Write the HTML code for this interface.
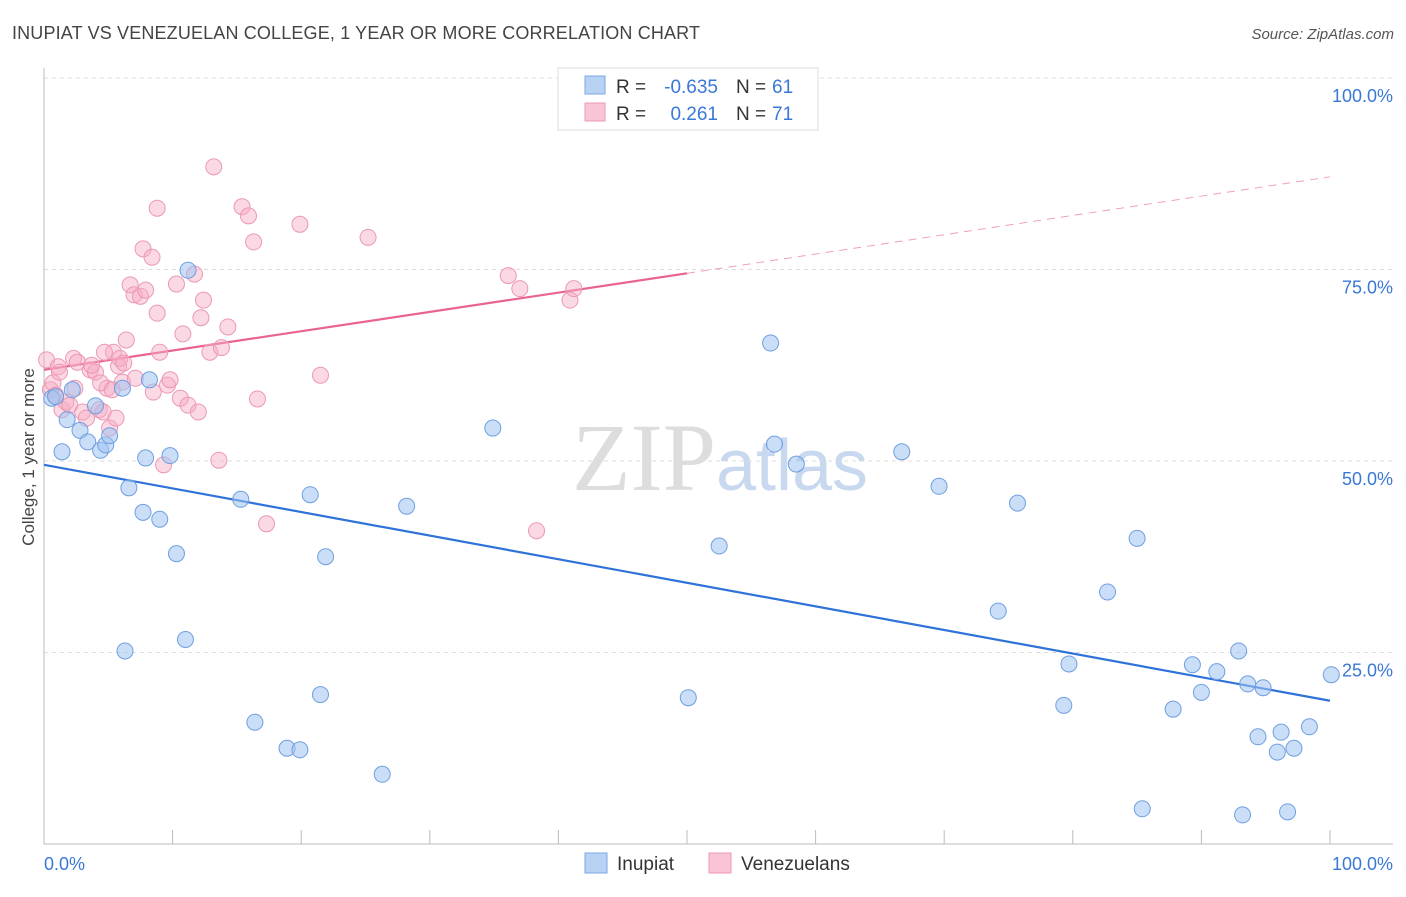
<!DOCTYPE html>
<html><head><meta charset="utf-8"><style>
body{margin:0;background:#fff;font-family:"Liberation Sans",sans-serif}
</style></head><body>
<svg id="chart" width="1406" height="892" xmlns="http://www.w3.org/2000/svg" font-family="Liberation Sans, sans-serif">
<text x="12" y="39" font-size="18" fill="#444" textLength="688">INUPIAT VS VENEZUELAN COLLEGE, 1 YEAR OR MORE CORRELATION CHART</text>
<text x="1394" y="39" font-size="15" fill="#555" text-anchor="end" font-style="italic">Source: ZipAtlas.com</text>
<text transform="translate(34,457) rotate(-90)" font-size="17" fill="#444" text-anchor="middle">College, 1 year or more</text>
<text x="720" y="490" font-size="96" fill="#ddd" text-anchor="middle" font-family="Liberation Serif, serif">ZIP<tspan fill="#c8d8ee" font-family="Liberation Sans, sans-serif" font-size="72">atlas</tspan></text>
<g id="grid"></g><g id="axes"></g><g id="lines"></g><g id="pts"></g>
<g>
<rect x="558" y="68" width="260" height="62" fill="#fff" stroke="#ddd"/>
<rect x="585" y="76" width="20" height="18" fill="#b8d2f4" stroke="#7aa8e4"/>
<rect x="585" y="103" width="20" height="18" fill="#f9c4d5" stroke="#ec98b3"/>
<text x="616" y="93" font-size="19" fill="#333">R =</text>
<text x="718" y="93" font-size="19" fill="#3a78d6" text-anchor="end">-0.635</text>
<text x="736" y="93" font-size="19" fill="#333">N =</text>
<text x="772" y="93" font-size="19" fill="#3a78d6">61</text>
<text x="616" y="120" font-size="19" fill="#333">R =</text>
<text x="718" y="120" font-size="19" fill="#3a78d6" text-anchor="end">0.261</text>
<text x="736" y="120" font-size="19" fill="#333">N =</text>
<text x="772" y="120" font-size="19" fill="#3a78d6">71</text>
</g>
<g>
<rect x="585" y="853" width="22" height="20" fill="#b8d2f4" stroke="#7aa8e4"/>
<text x="617" y="870" font-size="19" fill="#333">Inupiat</text>
<rect x="709" y="853" width="22" height="20" fill="#f9c4d5" stroke="#ec98b3"/>
<text x="741" y="870" font-size="19" fill="#333">Venezuelans</text>
</g>
</svg>
<script>
const blueX=[0.6,0.9,1.4,1.8,2.2,2.8,3.4,4.0,4.4,4.8,5.1,6.1,6.3,6.6,7.7,7.9,8.2,9.0,9.8,10.3,11.0,11.2,15.3,16.4,18.9,19.9,20.7,21.5,21.9,26.3,28.2,34.9,50.1,52.5,56.5,56.8,58.5,66.7,69.6,74.2,75.7,79.3,79.7,82.7,85.0,85.4,87.8,89.3,90.0,91.2,92.9,93.2,93.6,94.4,94.8,95.9,96.2,96.7,97.2,98.4,100.1];
const blueY=[58.2,58.4,51.2,55.4,59.3,54.0,52.5,57.2,51.4,52.1,53.3,59.5,25.2,46.5,43.3,50.4,60.6,42.4,50.7,37.9,26.7,74.9,45.0,15.9,12.5,12.3,45.6,19.5,37.5,9.1,44.1,54.3,19.1,38.9,65.4,52.2,49.6,51.2,46.7,30.4,44.5,18.1,23.5,32.9,39.9,4.6,17.6,23.4,19.8,22.5,25.2,3.8,20.9,14.0,20.4,12.0,14.6,4.2,12.5,15.3,22.1];
const pinkX=[0.2,0.5,0.7,1.1,1.4,1.7,2.0,2.3,2.4,3.0,3.3,3.6,4.0,4.3,4.6,4.9,5.1,5.4,5.6,5.8,5.9,6.1,6.4,6.7,7.0,7.5,7.7,7.9,8.4,8.5,8.8,8.8,9.0,9.3,9.6,10.3,10.6,10.8,11.2,11.7,12.0,12.2,12.4,12.9,13.2,13.6,13.8,14.3,15.4,15.9,16.3,16.6,17.3,19.9,21.5,25.2,36.1,37.0,38.3,40.9,41.2,0.9,1.2,2.6,3.7,4.4,4.7,5.3,6.2,7.1,9.8];
const pinkY=[63.2,59.3,60.2,62.3,56.7,57.7,57.3,63.4,59.5,56.4,55.6,61.9,61.6,56.7,56.4,59.5,54.3,64.2,55.6,62.4,63.4,60.3,65.8,73.0,71.7,71.5,77.7,72.3,76.6,59.0,69.3,83.0,64.2,49.5,59.9,73.1,58.2,66.6,57.3,74.4,56.4,68.7,71.0,64.2,88.4,50.1,64.8,67.5,83.2,82.0,78.6,58.1,41.8,80.9,61.2,79.2,74.2,72.5,40.9,71.0,72.5,58.6,61.6,62.9,62.5,60.2,64.2,59.3,62.8,60.8,60.6];
const blueLine=[49.5,18.7];
const pinkLine=[61.9,87.1];
const yTicks=[25,50,75,100];
const yTickLabels=["25.0%","50.0%","75.0%","100.0%"];
const xTickLabels=["0.0%","100.0%"];

const X=v=>44+v*12.86, Y=v=>844-v*7.66;
const NS="http://www.w3.org/2000/svg";
function mk(p,t,a){const e=document.createElementNS(NS,t);for(const k in a)e.setAttribute(k,a[k]);p.appendChild(e);return e;}
const grid=document.getElementById('grid'),axes=document.getElementById('axes'),lines=document.getElementById('lines'),pts=document.getElementById('pts');
yTicks.forEach((t,i)=>{
 const l=mk(grid,'line',{x1:44,x2:1393,y1:Y(t),y2:Y(t),stroke:'#ddd','stroke-dasharray':'4,4'});
 
 
 const tx=mk(grid,'text',{x:1393,y:Y(t)+24,'font-size':18,fill:'#3a78d6','text-anchor':'end'});
 tx.textContent=yTickLabels[i];
 
 
});
const ax=mk(axes,'line',{x1:44,x2:44,y1:68,y2:844,stroke:'#bbb'});


const bx=mk(axes,'line',{x1:44,x2:1393,y1:844,y2:844,stroke:'#bbb'});


for(let i=0;i<=10;i++){
 const t=mk(axes,'line',{x1:X(i*10),x2:X(i*10),y1:830,y2:844,stroke:'#bbb'});
 
 
}
[[0,'start',44],[100,'end',1393]].forEach((d,i)=>{
 const t=mk(axes,'text',{x:d[2],y:870,'font-size':18,fill:'#3a78d6','text-anchor':d[1]});
 t.textContent=xTickLabels[i];
 
 
});
pinkX.forEach((x,i)=>{
 const c=mk(pts,'circle',{cx:X(x),cy:Y(pinkY[i]),r:8,fill:'rgba(246,170,196,0.45)',stroke:'#ec98b3','stroke-width':1});
 
 
});
blueX.forEach((x,i)=>{
 const c=mk(pts,'circle',{cx:X(x),cy:Y(blueY[i]),r:8,fill:'rgba(160,195,240,0.55)',stroke:'#6f9fe0','stroke-width':1});
 
 
});
const b=mk(lines,'line',{x1:X(0),y1:Y(blueLine[0]),x2:X(100),y2:Y(blueLine[1]),stroke:'#2f72d8','stroke-width':2.2});


const pm=pinkLine[0]+(pinkLine[1]-pinkLine[0])*0.5;
const p1=mk(lines,'line',{x1:X(0),y1:Y(pinkLine[0]),x2:X(50),y2:Y(pm),stroke:'#e8648e','stroke-width':2.2});


const p2=mk(lines,'line',{x1:X(50),y1:Y(pm),x2:X(100),y2:Y(pinkLine[1]),stroke:'#f0a0b8','stroke-width':1,'stroke-dasharray':'8,6'});


</script>
</body></html>
